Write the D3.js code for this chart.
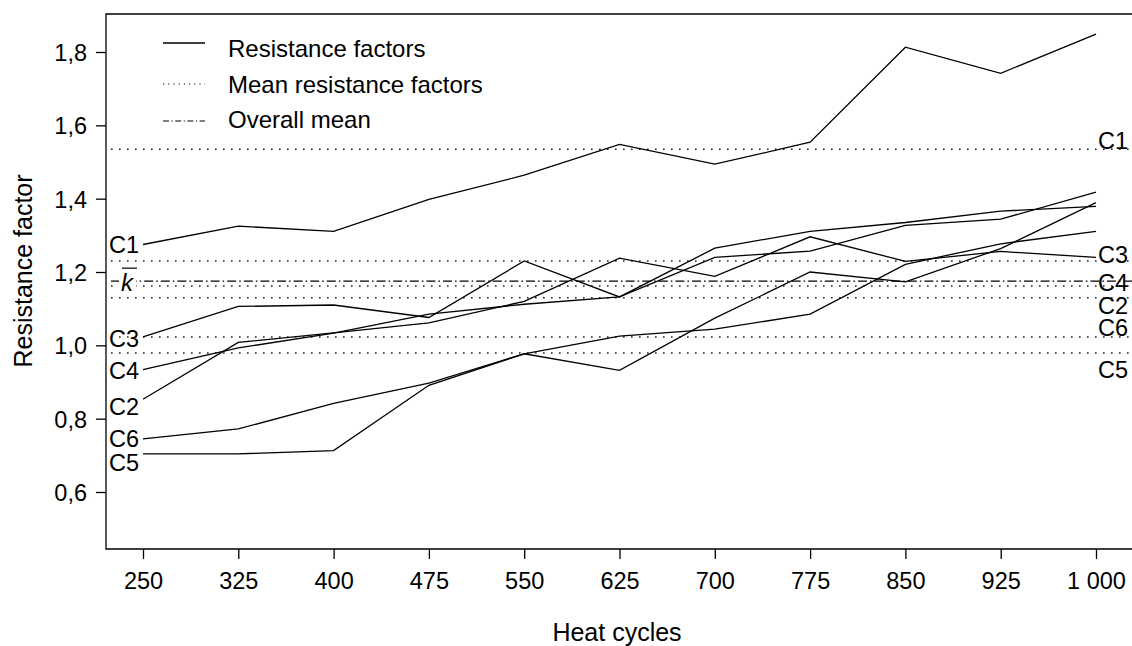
<!DOCTYPE html>
<html>
<head>
<meta charset="utf-8">
<script src="https://cdn.jsdelivr.net/npm/d3@7"></script>
<style>
  html, body { margin: 0; padding: 0; background: #fff; }
  svg { display: block; }
  text { font-family: "Liberation Sans", Arial, sans-serif; fill: #000; }
</style>
</head>
<body>
<svg id="chart" width="1132" height="646"></svg>
<script>
// ---- data ----
const cycles = [250, 325, 400, 475, 550, 625, 700, 775, 850, 925, 1000];
const seriesNames = ["C1", "C2", "C3", "C4", "C5", "C6"];
const C1 = [1.275, 1.325, 1.311, 1.398, 1.464, 1.548, 1.494, 1.554, 1.813, 1.742, 1.849];
const C2 = [0.853, 1.008, 1.034, 1.061, 1.120, 1.238, 1.188, 1.296, 1.229, 1.256, 1.240];
const C3 = [1.023, 1.106, 1.110, 1.076, 1.230, 1.132, 1.265, 1.311, 1.335, 1.366, 1.379];
const C4 = [0.934, 0.993, 1.033, 1.085, 1.112, 1.132, 1.240, 1.257, 1.327, 1.344, 1.418];
const C5 = [0.704, 0.704, 0.713, 0.891, 0.977, 0.932, 1.074, 1.200, 1.173, 1.264, 1.389];
const C6 = [0.745, 0.772, 0.842, 0.897, 0.977, 1.025, 1.044, 1.085, 1.221, 1.277, 1.311];
const meanValues = [1.535, 1.130, 1.230, 1.162, 0.979, 1.023]; // C1..C6
const overallMean = 1.175;
const yTicks = [0.6, 0.8, 1.0, 1.2, 1.4, 1.6, 1.8];
const xTickLabels = ["250", "325", "400", "475", "550", "625", "700", "775", "850", "925", "1 000"];
const legendLabels = ["Resistance factors", "Mean resistance factors", "Overall mean"];
const xTitle = "Heat cycles";
const yTitle = "Resistance factor";

// ---- layout (positions / styles) ----
const W = 1132, H = 646;
const frame = { left: 106, top: 14, bottom: 549, right: 1132 };
const refStart = 111;
const fontSize = 23.5;
const legendFont = 24;
const titleFont = 25;
const leftLabelDy = { C1: 0, C2: 7, C3: 2, C4: 1, C5: 9, C6: 0 };
const rightLabelDy = { C1: -9, C2: 8, C3: -6, C4: -3, C5: 17, C6: -9 };
const dotted = "1.6,6.4";
const dashdot = "9,3,1.6,3";

const seriesData = { C1, C2, C3, C4, C5, C6 };

const svg = d3.select("#chart");

const x = d3.scaleLinear().domain([250, 1000]).range([143, 1096]);
const y = d3.scaleLinear().domain([0.6, 1.8]).range([492, 52]);

// frame lines (top, left, bottom)
svg.append("path")
  .attr("d", `M${frame.right},${frame.top}H${frame.left}V${frame.bottom}H${frame.right}`)
  .attr("fill", "none").attr("stroke", "#000").attr("stroke-width", 1.3);

// x axis
const xAxis = d3.axisBottom(x)
  .tickValues(cycles)
  .tickSize(10)
  .tickPadding(6)
  .tickFormat((d, i) => xTickLabels[i]);
const gx = svg.append("g").attr("transform", `translate(0,${frame.bottom})`).call(xAxis);
gx.select(".domain").remove();
gx.selectAll(".tick line").attr("stroke", "#000").attr("stroke-width", 1.3);
gx.selectAll(".tick text")
  .attr("font-size", fontSize)
  .attr("font-family", "'Liberation Sans', Arial, sans-serif")
  .attr("fill", "#000")
  .attr("dy", null)
  .attr("y", 40);

// y axis
const yAxis = d3.axisLeft(y)
  .tickValues(yTicks)
  .tickSize(10)
  .tickPadding(9)
  .tickFormat(d => d3.format(".1f")(d).replace(".", ","));
const gy = svg.append("g").attr("transform", `translate(${frame.left},0)`).call(yAxis);
gy.select(".domain").remove();
gy.selectAll(".tick line").attr("stroke", "#000").attr("stroke-width", 1.3);
gy.selectAll(".tick text")
  .attr("font-size", fontSize)
  .attr("font-family", "'Liberation Sans', Arial, sans-serif")
  .attr("fill", "#000")
  .attr("dy", "0.36em");

// axis titles
svg.append("text")
  .attr("x", 617).attr("y", 641)
  .attr("text-anchor", "middle")
  .attr("font-size", titleFont)
  .text(xTitle);
svg.append("text")
  .attr("transform", `translate(32,271) rotate(-90)`)
  .attr("text-anchor", "middle")
  .attr("font-size", titleFont)
  .text(yTitle);

// mean lines (dotted)
seriesNames.forEach((name, i) => {
  svg.append("line")
    .attr("x1", refStart).attr("x2", W)
    .attr("y1", y(meanValues[i])).attr("y2", y(meanValues[i]))
    .attr("stroke", "#222").attr("stroke-width", 1.5)
    .attr("stroke-dasharray", dotted);
});

// overall mean (dash-dot)
svg.append("line")
  .attr("x1", refStart).attr("x2", W)
  .attr("y1", y(overallMean)).attr("y2", y(overallMean))
  .attr("stroke", "#000").attr("stroke-width", 1.4)
  .attr("stroke-dasharray", dashdot);

// k-bar label
const ky = y(overallMean);
svg.append("rect")
  .attr("x", 119).attr("y", ky - 13).attr("width", 17).attr("height", 26)
  .attr("fill", "#fff");
svg.append("text")
  .attr("x", 121).attr("y", ky + 10)
  .attr("font-family", "'Liberation Serif', 'DejaVu Serif', serif")
  .attr("font-style", "italic")
  .attr("font-size", 24)
  .text("k");
svg.append("line")
  .attr("x1", 122).attr("x2", 137)
  .attr("y1", ky - 13).attr("y2", ky - 13)
  .attr("stroke", "#000").attr("stroke-width", 1.2);

// series lines
const line = d3.line().x((d, i) => x(cycles[i])).y(d => y(d));
seriesNames.forEach(name => {
  svg.append("path")
    .datum(seriesData[name])
    .attr("d", line)
    .attr("fill", "none")
    .attr("stroke", "#000")
    .attr("stroke-width", 1.3)
    .attr("stroke-linejoin", "miter");
});

// left labels (at series start)
seriesNames.forEach(name => {
  svg.append("text")
    .attr("x", 139)
    .attr("y", y(seriesData[name][0]) + leftLabelDy[name])
    .attr("dy", "0.36em")
    .attr("text-anchor", "end")
    .attr("font-size", fontSize)
    .text(name);
});

// right labels (at mean lines)
seriesNames.forEach((name, i) => {
  svg.append("text")
    .attr("x", 1098)
    .attr("y", y(meanValues[i]) + rightLabelDy[name])
    .attr("dy", "0.36em")
    .attr("text-anchor", "start")
    .attr("font-size", fontSize)
    .text(name);
});

// legend
const legendRows = [
  { label: legendLabels[0], dash: null, ly: 43, ty: 57 },
  { label: legendLabels[1], dash: dotted, ly: 84, ty: 93 },
  { label: legendLabels[2], dash: dashdot, ly: 121, ty: 128 }
];
const lg = svg.append("g");
legendRows.forEach(r => {
  lg.append("line")
    .attr("x1", 163).attr("x2", 205)
    .attr("y1", r.ly).attr("y2", r.ly)
    .attr("stroke", "#000").attr("stroke-width", r.dash ? 1.1 : 1.3)
    .attr("stroke-dasharray", r.dash ? (r.dash === dotted ? "1.2,4" : "6,2.5,1.2,2.5") : null);
  lg.append("text")
    .attr("x", 228).attr("y", r.ty)
    .attr("font-size", legendFont)
    .text(r.label);
});
</script>
</body>
</html>
